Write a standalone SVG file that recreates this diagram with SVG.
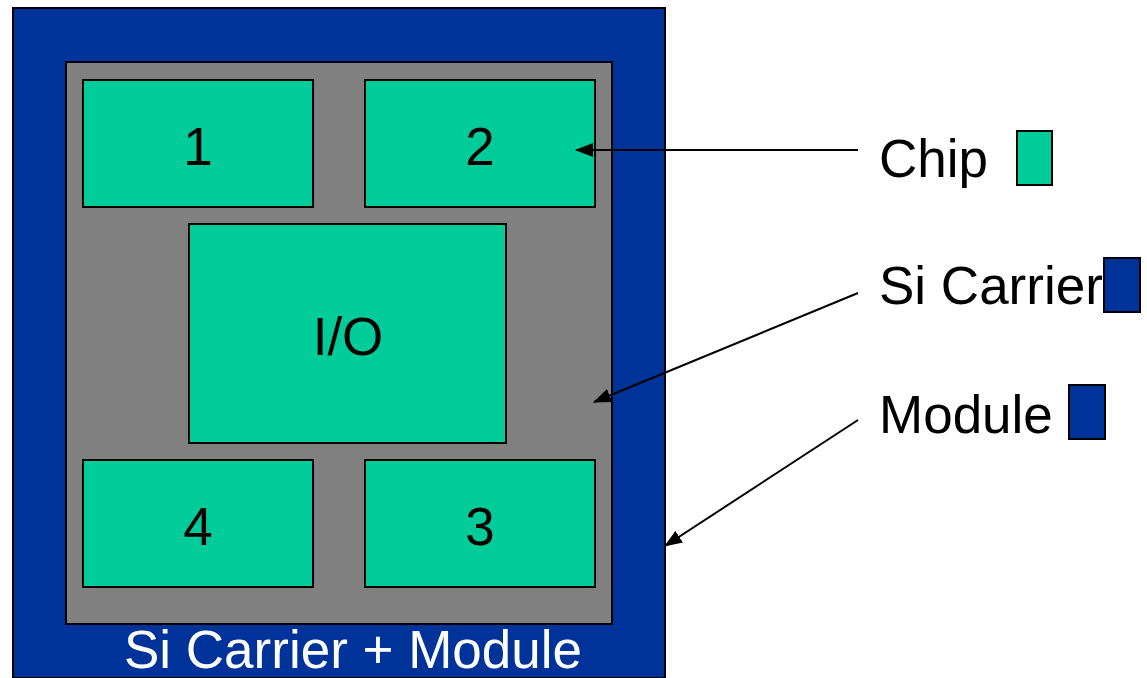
<svg xmlns="http://www.w3.org/2000/svg" width="1147" height="678" viewBox="0 0 1147 678">
<defs>
<style>
.mod{fill:#003399;stroke:#000;stroke-width:2}
.car{fill:#808080;stroke:#000;stroke-width:2}
.chip{fill:#00CC99;stroke:#000;stroke-width:2}
.t{font-family:"Liberation Sans",Arial,sans-serif;font-size:53px;fill:#000}
.c{text-anchor:middle}
.w{fill:#fff}
.ln{stroke:#000;stroke-width:2;fill:none}
</style>
<marker id="ah" markerWidth="18" markerHeight="14" refX="17" refY="7" orient="auto" markerUnits="userSpaceOnUse" viewBox="0 0 18 14">
<path d="M0,0 L18,7 L0,14 Z" fill="#000"/>
</marker>
</defs>
<rect width="1147" height="678" fill="#fff"/>
<g id="module">
<rect class="mod" x="13" y="8" width="652" height="670"/>
<text class="t c w" x="353" y="668">Si Carrier + Module</text>
</g>
<g id="carrier">
<rect class="car" x="66" y="62" width="546" height="562"/>
</g>
<g id="chip1"><rect class="chip" x="83" y="80" width="230" height="127"/><text class="t c" x="198" y="165">1</text></g>
<g id="chip2"><rect class="chip" x="365" y="80" width="230" height="127"/><text class="t c" x="480" y="165">2</text></g>
<g id="io"><rect class="chip" x="189" y="224" width="317" height="219"/><text class="t c" x="348" y="355">I/O</text></g>
<g id="chip4"><rect class="chip" x="83" y="460" width="230" height="127"/><text class="t c" x="198" y="545">4</text></g>
<g id="chip3"><rect class="chip" x="365" y="460" width="230" height="127"/><text class="t c" x="480" y="545">3</text></g>
<g id="legend-chip"><text class="t" x="879" y="177">Chip</text><rect class="chip" x="1017" y="131" width="35" height="54"/></g>
<g id="legend-carrier"><text class="t" x="879" y="304">Si Carrier</text><rect class="mod" x="1104" y="258" width="36" height="54"/></g>
<g id="legend-module"><text class="t" x="879" y="433">Module</text><rect class="mod" x="1069" y="385" width="36" height="54"/></g>
<g id="connectors">
<line class="ln" x1="858" y1="150" x2="576" y2="150" marker-end="url(#ah)"/>
<line class="ln" x1="858" y1="293" x2="594" y2="402" marker-end="url(#ah)"/>
<line class="ln" x1="858" y1="420" x2="665" y2="546" marker-end="url(#ah)"/>
</g>
</svg>
